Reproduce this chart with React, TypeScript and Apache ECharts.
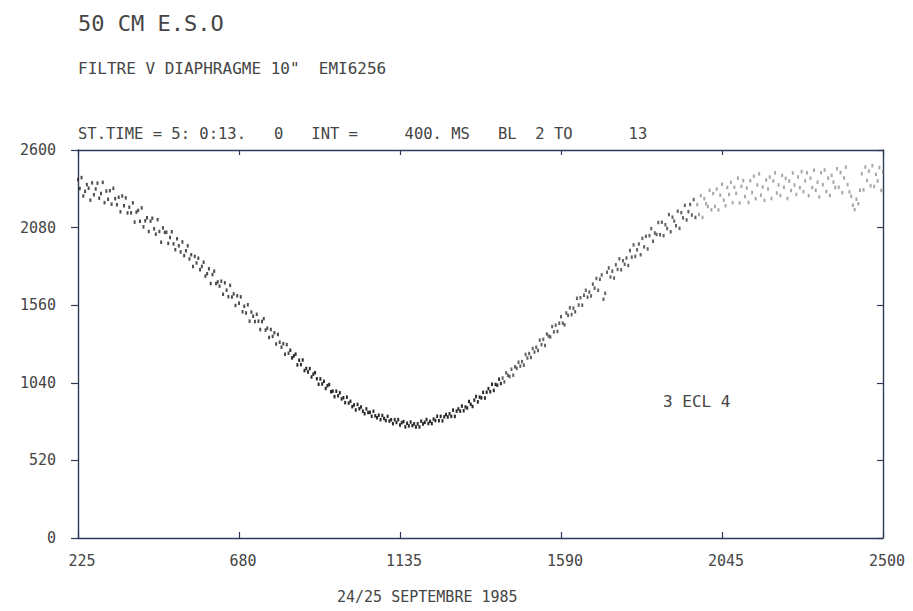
import React, { useEffect, useRef } from "react";
import * as echarts from "echarts";

const xTicks = [225, 680, 1135, 1590, 2045, 2500];
const yTicks = [0, 520, 1040, 1560, 2080, 2600];
const titleText = "50 CM E.S.O";
const subtitleText = 'FILTRE V DIAPHRAGME 10"  EMI6256';
const runText = "ST.TIME = 5: 0:13.   0   INT =     400. MS   BL  2 TO      13";
const eclipseLabel = "3 ECL 4";
const dateLabel = "24/25 SEPTEMBRE 1985";

// photometer counts: [sample, counts]
const countsEgress: [number, number][] = [
  [225, 2402], [230, 2342], [235, 2415], [240, 2292], [245, 2323], [250, 2368], [255, 2344], [260, 2264], [265, 2380], [270, 2300],
  [275, 2339], [280, 2378], [285, 2277], [290, 2309], [295, 2383], [300, 2247], [305, 2325], [310, 2270], [315, 2327], [320, 2237],
  [325, 2343], [330, 2274], [335, 2233], [340, 2283], [345, 2186], [350, 2292], [355, 2226], [360, 2279], [365, 2178], [370, 2217],
  [375, 2179], [380, 2246], [385, 2117], [390, 2184], [395, 2195], [400, 2122], [405, 2212], [410, 2085], [415, 2126], [420, 2146],
  [425, 2054], [430, 2123], [435, 2143], [440, 2072], [445, 2036], [450, 2133], [455, 2054], [460, 1982], [465, 2078], [470, 2048],
  [475, 2049], [480, 1974], [485, 2013], [490, 2052], [495, 1971], [500, 1932], [505, 2005], [510, 1958], [515, 1917], [520, 1984],
  [525, 1892], [530, 1925], [535, 1958], [540, 1870], [545, 1898], [550, 1820], [555, 1887], [560, 1843], [565, 1875], [570, 1798],
  [575, 1820], [580, 1848], [585, 1755], [590, 1771], [595, 1804], [600, 1705], [605, 1765], [610, 1788], [615, 1705], [620, 1716],
  [625, 1688], [630, 1721], [635, 1633], [640, 1710], [645, 1661], [650, 1617], [655, 1693], [660, 1615], [665, 1636], [670, 1558],
  [675, 1623], [680, 1573], [685, 1616], [690, 1516], [695, 1553], [700, 1508], [705, 1563], [710, 1453], [715, 1514], [720, 1486],
  [725, 1450], [730, 1499], [735, 1453], [740, 1397], [745, 1451], [750, 1470], [755, 1393], [760, 1406], [765, 1344], [770, 1397],
  [775, 1351], [780, 1375], [785, 1300], [790, 1364], [795, 1312], [800, 1278], [805, 1302], [810, 1231], [815, 1296], [820, 1238],
];

const countsMinimum: [number, number][] = [
  [825, 1258], [830, 1207], [835, 1220], [840, 1232], [845, 1160], [850, 1191], [855, 1162], [860, 1193], [865, 1122], [870, 1136],
  [875, 1113], [880, 1135], [885, 1079], [890, 1098], [895, 1108], [900, 1067], [905, 1030], [910, 1066], [915, 1032], [920, 1050],
  [925, 1002], [930, 1021], [935, 1028], [940, 980], [945, 984], [950, 947], [955, 984], [960, 953], [965, 973], [970, 932],
  [975, 940], [980, 907], [985, 944], [990, 904], [995, 916], [1000, 880], [1005, 892], [1010, 858], [1015, 895], [1020, 866],
  [1025, 878], [1030, 850], [1035, 833], [1040, 865], [1045, 841], [1050, 842], [1055, 816], [1060, 849], [1065, 819], [1070, 806],
  [1075, 823], [1080, 793], [1085, 821], [1090, 801], [1095, 787], [1100, 815], [1105, 784], [1110, 793], [1115, 766], [1120, 793],
  [1125, 774], [1130, 793], [1135, 758], [1140, 773], [1145, 780], [1150, 745], [1155, 769], [1160, 751], [1165, 777], [1170, 753],
  [1175, 765], [1180, 744], [1185, 765], [1190, 744], [1195, 783], [1200, 764], [1205, 775], [1210, 794], [1215, 767], [1220, 782],
  [1225, 767], [1230, 797], [1235, 787], [1240, 816], [1245, 786], [1250, 815], [1255, 785], [1260, 812], [1265, 828], [1270, 811],
  [1275, 833], [1280, 815], [1285, 857], [1290, 815], [1295, 850], [1300, 865], [1305, 850], [1310, 884], [1315, 853], [1320, 878],
  [1325, 871], [1330, 914], [1335, 896], [1340, 881], [1345, 924], [1350, 948], [1355, 912], [1360, 944], [1365, 939], [1370, 976],
  [1375, 938], [1380, 977], [1385, 1001], [1390, 980], [1395, 1031], [1400, 989], [1405, 1029], [1410, 1024], [1415, 1064], [1420, 1035],
];

const countsIngress: [number, number][] = [
  [1425, 1072], [1430, 1046], [1435, 1107], [1440, 1090], [1445, 1082], [1450, 1131], [1455, 1091], [1460, 1147], [1465, 1137], [1470, 1178],
  [1475, 1152], [1480, 1182], [1485, 1158], [1490, 1230], [1495, 1206], [1500, 1236], [1505, 1210], [1510, 1270], [1515, 1246], [1520, 1278],
  [1525, 1257], [1530, 1326], [1535, 1296], [1540, 1331], [1545, 1290], [1550, 1367], [1555, 1353], [1560, 1347], [1565, 1417], [1570, 1381],
  [1575, 1426], [1580, 1384], [1585, 1439], [1590, 1482], [1595, 1440], [1600, 1428], [1605, 1508], [1610, 1492], [1615, 1543], [1620, 1497],
  [1625, 1540], [1630, 1516], [1635, 1606], [1640, 1561], [1645, 1610], [1650, 1560], [1655, 1626], [1660, 1660], [1665, 1614], [1670, 1648],
  [1675, 1622], [1680, 1701], [1685, 1674], [1690, 1739], [1695, 1660], [1700, 1734], [1705, 1763], [1710, 1600], [1715, 1640], [1720, 1780],
  [1725, 1810], [1730, 1749], [1735, 1788], [1740, 1742], [1745, 1831], [1750, 1800], [1755, 1871], [1760, 1797], [1765, 1858], [1770, 1834],
  [1775, 1876], [1780, 1826], [1785, 1926], [1790, 1882], [1795, 1964], [1800, 1887], [1805, 1931], [1810, 1970], [1815, 1898], [1820, 2008],
  [1825, 1951], [1830, 2022], [1835, 1937], [1840, 2026], [1845, 2073], [1850, 1988], [1855, 2044], [1860, 2034], [1865, 2114], [1870, 2032],
  [1875, 2116], [1880, 2026], [1885, 2099], [1890, 2074], [1895, 2167], [1900, 2052], [1905, 2150], [1910, 2124], [1915, 2092], [1920, 2190],
  [1925, 2075], [1930, 2180], [1935, 2145], [1940, 2229], [1945, 2131], [1950, 2187], [1955, 2235], [1960, 2164], [1965, 2268], [1970, 2148],
];

const countsOutside: [number, number][] = [
  [1975, 2234], [1980, 2168], [1985, 2294], [1990, 2148], [1995, 2274], [2000, 2240], [2005, 2221], [2010, 2330], [2015, 2199], [2020, 2308],
  [2025, 2222], [2030, 2338], [2035, 2198], [2040, 2297], [2045, 2370], [2050, 2264], [2055, 2226], [2060, 2349], [2065, 2302], [2070, 2383],
  [2075, 2247], [2080, 2350], [2085, 2309], [2090, 2412], [2095, 2245], [2100, 2357], [2105, 2395], [2110, 2289], [2115, 2345], [2120, 2248],
  [2125, 2394], [2130, 2315], [2135, 2425], [2140, 2274], [2145, 2366], [2150, 2440], [2155, 2297], [2160, 2352], [2165, 2263], [2170, 2399],
  [2175, 2338], [2180, 2419], [2185, 2275], [2190, 2392], [2195, 2447], [2200, 2312], [2205, 2366], [2210, 2295], [2215, 2430], [2220, 2350],
  [2225, 2410], [2230, 2275], [2235, 2392], [2240, 2329], [2245, 2446], [2250, 2365], [2255, 2302], [2260, 2419], [2265, 2347], [2270, 2455],
  [2275, 2321], [2280, 2393], [2285, 2447], [2290, 2294], [2295, 2411], [2300, 2348], [2305, 2465], [2310, 2330], [2315, 2384], [2320, 2285],
  [2325, 2448], [2330, 2367], [2335, 2466], [2340, 2322], [2345, 2412], [2350, 2295], [2355, 2430], [2360, 2385], [2365, 2349], [2370, 2475],
  [2375, 2350], [2380, 2449], [2385, 2314], [2390, 2413], [2395, 2485], [2400, 2368], [2405, 2320], [2410, 2290], [2415, 2230], [2420, 2200],
  [2425, 2270], [2430, 2240], [2435, 2330], [2440, 2441], [2445, 2333], [2450, 2486], [2455, 2396], [2460, 2459], [2465, 2360], [2470, 2495],
  [2475, 2356], [2480, 2437], [2485, 2392], [2490, 2482], [2495, 2329], [2500, 2455],
];

const MONO = '"DejaVu Sans Mono", "Liberation Mono", monospace';
const INK = "#454545";
const FRAME = "#2f3a58";

export default function App() {
  const ref = useRef<HTMLDivElement | null>(null);

  useEffect(() => {
    if (!ref.current) return;
    const chart = echarts.init(ref.current, undefined, { renderer: "svg" });
    const xMin = xTicks[0];
    const xMax = xTicks[xTicks.length - 1];
    const xStep = xTicks[1] - xTicks[0];
    const yMin = yTicks[0];
    const yMax = yTicks[yTicks.length - 1];
    const yStep = yTicks[1] - yTicks[0];
    const plain = (v: number) => String(v);

    const pointSeries = (name: string, data: [number, number][], color: string, opacity: number) => ({
      name,
      type: "scatter",
      data,
      symbol: "rect",
      symbolSize: [2, 3.5],
      itemStyle: { color, opacity },
      silent: true,
    });

    chart.setOption({
      animation: false,
      backgroundColor: "#ffffff",
      grid: { left: 78, right: 30, top: 150, bottom: 73, containLabel: false },
      xAxis: [
        {
          type: "value",
          position: "bottom",
          min: xMin,
          max: xMax,
          interval: xStep,
          axisLine: { show: true, onZero: false, lineStyle: { color: FRAME, width: 1.4 } },
          axisTick: { show: true, inside: true, length: 6, lineStyle: { color: FRAME, width: 1.2 } },
          splitLine: { show: false },
          axisLabel: {
            show: true,
            margin: 15,
            color: INK,
            fontFamily: MONO,
            fontSize: 15,
            padding: [0, 0, 0, 8],
            formatter: plain,
            showMinLabel: true,
            showMaxLabel: true,
          },
        },
        {
          type: "value",
          position: "top",
          min: xMin,
          max: xMax,
          interval: xStep,
          axisLine: { show: true, onZero: false, lineStyle: { color: FRAME, width: 1.4 } },
          axisTick: { show: true, inside: true, length: 5, lineStyle: { color: FRAME, width: 1.2 } },
          splitLine: { show: false },
          axisLabel: { show: false },
        },
      ],
      yAxis: [
        {
          type: "value",
          position: "left",
          min: yMin,
          max: yMax,
          interval: yStep,
          axisLine: { show: true, onZero: false, lineStyle: { color: FRAME, width: 1.4 } },
          axisTick: { show: true, inside: false, length: 7, lineStyle: { color: FRAME, width: 1.2 } },
          splitLine: { show: false },
          axisLabel: {
            show: true,
            margin: 22,
            color: INK,
            fontFamily: MONO,
            fontSize: 15,
            formatter: plain,
            showMinLabel: true,
            showMaxLabel: true,
          },
        },
        {
          type: "value",
          position: "right",
          min: yMin,
          max: yMax,
          interval: yStep,
          axisLine: { show: true, onZero: false, lineStyle: { color: FRAME, width: 1.4 } },
          axisTick: { show: true, inside: true, length: 6, lineStyle: { color: FRAME, width: 1.2 } },
          splitLine: { show: false },
          axisLabel: { show: false },
        },
      ],
      series: [
        pointSeries("egress", countsEgress, "#2e2e2e", 0.85),
        pointSeries("minimum", countsMinimum, "#1f1f1f", 0.95),
        pointSeries("ingress", countsIngress, "#3a3a3a", 0.8),
        pointSeries("outside", countsOutside, "#6a6a6a", 0.6),
      ],
      graphic: [
        {
          type: "text",
          left: 78,
          top: 12,
          style: { text: titleText, fontFamily: MONO, fontSize: 22, fill: INK },
        },
        {
          type: "text",
          left: 78,
          top: 60,
          style: { text: subtitleText, fontFamily: MONO, fontSize: 16, fill: INK },
        },
        {
          type: "text",
          left: 78,
          top: 126,
          style: { text: runText, fontFamily: MONO, fontSize: 15.5, fill: INK },
        },
        {
          type: "text",
          left: 663,
          top: 393,
          style: { text: eclipseLabel, fontFamily: MONO, fontSize: 16, fill: INK },
        },
        {
          type: "text",
          left: 337,
          top: 589,
          style: { text: dateLabel, fontFamily: MONO, fontSize: 15, fill: INK },
        },
      ],
    });

    return () => {
      chart.dispose();
    };
  }, []);

  return <div ref={ref} style={{ width: 913, height: 611, position: "fixed", left: 0, top: 0 }} />;
}
